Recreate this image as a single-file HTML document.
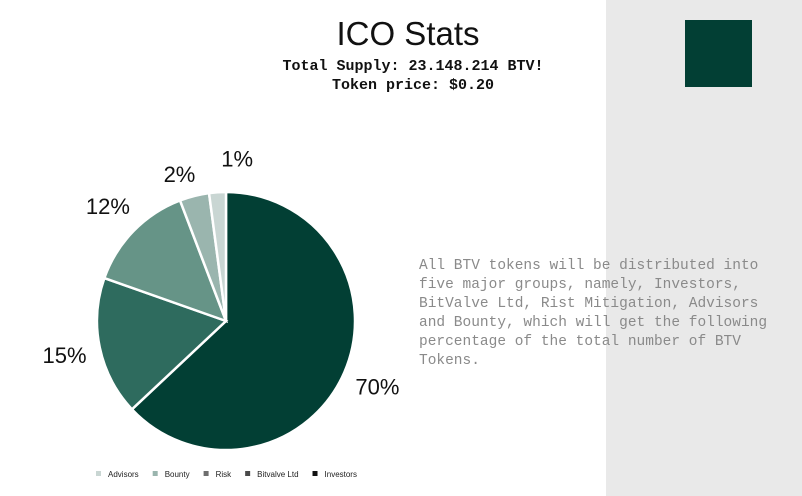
<!DOCTYPE html>
<html><head><meta charset="utf-8"><style>
body{margin:0;width:802px;height:496px;overflow:hidden;background:#fff;position:relative;font-family:"Liberation Sans",sans-serif}
#side{position:absolute;left:606px;top:0;width:196px;height:496px;background:#e9e9e9}
#sq{position:absolute;left:685px;top:20px;width:67px;height:67px;background:#023f34}
#title{position:absolute;left:0;width:816px;top:15px;text-align:center;font-size:33px;color:#111}
.sub{position:absolute;left:0;width:826px;text-align:center;font-family:"Liberation Mono",monospace;font-weight:bold;font-size:15px;color:#111}
#para{position:absolute;left:419px;top:257px;width:370px;font-family:"Liberation Mono",monospace;font-size:14.5px;line-height:19px;color:#8a8a8a;white-space:pre}
svg{position:absolute;left:0;top:0}
</style></head><body>
<div id="side"></div>
<div id="sq"></div>
<div id="title">ICO Stats</div>
<div class="sub" style="top:58px">Total Supply: 23.148.214 BTV!</div>
<div class="sub" style="top:77px">Token price: $0.20</div>
<div id="para">All BTV tokens will be distributed into
five major groups, namely, Investors,
BitValve Ltd, Rist Mitigation, Advisors
and Bounty, which will get the following
percentage of the total number of BTV
Tokens.</div>
<svg id="chart" width="802" height="496"></svg>
<script>
const categories=["Investors","Bitvalve Ltd","Risk","Bounty","Advisors"];
const values=[63,17.4,13.8,3.7,2.1];
const labels=["70%","15%","12%","2%","1%"];
const colors=["#023f34","#2e6b5e","#669487","#9ab5ae","#c9d6d3"];
const NS="http://www.w3.org/2000/svg";
const svg=document.getElementById('chart');
const cx=226,cy=321,R=129,LR=165;
// label nudges to avoid overlap for tiny slices (layout only)
const nudgeX=[0,0,0,-6,22], nudgeY=[0,0,0,13,2];
const total=values.reduce((a,b)=>a+b,0);
function pt(a,r){return [cx+r*Math.sin(a),cy-r*Math.cos(a)];}
let a0=0;
values.forEach((v,i)=>{
  const a1=a0+v/total*2*Math.PI;
  const p0=pt(a0,R),p1=pt(a1,R);
  const large=(a1-a0)>Math.PI?1:0;
  const path=document.createElementNS(NS,'path');
  path.setAttribute('d',`M${cx},${cy}L${p0[0]},${p0[1]}A${R},${R} 0 ${large} 1 ${p1[0]},${p1[1]}Z`);
  path.setAttribute('fill',colors[i]);
  path.setAttribute('stroke','#fff');
  path.setAttribute('stroke-width','2.5');
  
  
  svg.appendChild(path);
  const m=(a0+a1)/2, lp=pt(m,LR);
  const t=document.createElementNS(NS,'text');
  t.setAttribute('x',lp[0]+nudgeX[i]);t.setAttribute('y',lp[1]+8+nudgeY[i]);
  t.setAttribute('text-anchor','middle');
  t.setAttribute('font-size','22');
  t.setAttribute('font-family','Liberation Sans, sans-serif');
  t.setAttribute('fill','#111');
  t.textContent=labels[i];
  
  
  svg.appendChild(t);
  a0=a1;
});
const legOrder=[4,3,2,1,0];
const legColors=["#c9d6d3","#9ab5ae","#6e6e6e","#4a4a4a","#111"];
let lx=96;
legOrder.forEach((ci,k)=>{
  const r=document.createElementNS(NS,'rect');
  r.setAttribute('x',lx);r.setAttribute('y',471);r.setAttribute('width',5);r.setAttribute('height',5);
  r.setAttribute('fill',legColors[k]);
  
  
  svg.appendChild(r);
  const t=document.createElementNS(NS,'text');
  t.setAttribute('x',lx+12);t.setAttribute('y',477);
  t.setAttribute('font-size','8');
  t.setAttribute('font-family','Liberation Sans, sans-serif');
  t.setAttribute('fill','#222');
  t.textContent=categories[ci];
  
  
  svg.appendChild(t);
  lx+=12+t.getComputedTextLength()+14;
});
</script>
</body></html>
